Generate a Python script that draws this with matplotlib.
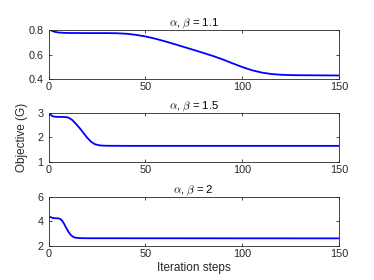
import matplotlib
matplotlib.use("Agg")
import matplotlib.pyplot as plt

plt.rcParams['font.family'] = ['Liberation Sans', 'DejaVu Sans']
plt.rcParams['mathtext.fontset'] = 'cm'

# iteration values
x1 = [1, 2, 3, 5, 8, 10, 20, 30, 35, 40, 45, 50, 55, 60, 65, 70, 75, 80, 85,
      90, 95, 100, 105, 110, 115, 120, 125, 130, 140, 150]
g1 = [0.800, 0.792, 0.786, 0.780, 0.777, 0.776, 0.775, 0.775, 0.774, 0.770,
      0.761, 0.748, 0.730, 0.709, 0.686, 0.662, 0.638, 0.614, 0.589, 0.561,
      0.530, 0.500, 0.474, 0.455, 0.443, 0.437, 0.434, 0.433, 0.432, 0.431]

x2 = [1, 2, 3, 5, 8, 10, 12, 14, 16, 18, 20, 22, 24, 26, 28, 30, 40, 150]
g2 = [2.92, 2.86, 2.84, 2.83, 2.83, 2.81, 2.72, 2.56, 2.38, 2.18, 1.98, 1.82,
      1.72, 1.68, 1.665, 1.66, 1.655, 1.655]

x3 = [1, 2, 3, 5, 6, 7, 8, 9, 10, 11, 12, 13, 14, 16, 20, 150]
g3 = [4.35, 4.28, 4.26, 4.24, 4.20, 4.05, 3.80, 3.50, 3.22, 2.98, 2.82, 2.72,
      2.67, 2.64, 2.63, 2.62]

titles = [r'$\alpha$, $\beta$ = 1.1', r'$\alpha$, $\beta$ = 1.5', r'$\alpha$, $\beta$ = 2']
yticks = [[0.4, 0.6, 0.8], [1, 2, 3], [2, 4, 6]]
ylims = [(0.4, 0.8), (1, 3), (2, 6)]
xticks = [0, 50, 100, 150]

fig = plt.figure(figsize=(3.74, 2.8), dpi=100)
bottoms = [0.7168, 0.4214, 0.1214]
grey = (0.15, 0.15, 0.15)

axes = []
for i, (xs, ys) in enumerate([(x1, g1), (x2, g2), (x3, g3)]):
    ax = fig.add_axes([0.13, bottoms[i], 0.776, 0.176])
    ax.plot(xs, ys, color=(0, 0, 1), lw=1.3)
    ax.set_xlim(0, 150)
    ax.set_ylim(*ylims[i])
    ax.set_xticks(xticks)
    ax.set_yticks(yticks[i])
    ax.set_yticklabels([f'{v:g}' for v in yticks[i]])
    ax.tick_params(direction='in', length=2.5, width=0.6, labelsize=7.8,
                   colors=grey, top=True, right=True, pad=2)
    ax.tick_params(axis='y', pad=3.5)
    for s in ax.spines.values():
        s.set_color(grey)
        s.set_linewidth(0.6)
    ax.set_title(titles[i], fontsize=8.2, pad=2.5, color='black')
    axes.append(ax)

axes[1].set_ylabel('Objective (G)', fontsize=8.5, color=grey, labelpad=7)
axes[2].set_xlabel('Iteration steps', fontsize=8.5, color=grey, labelpad=2.5)

fig.savefig('out.png', dpi=100, facecolor='white')
